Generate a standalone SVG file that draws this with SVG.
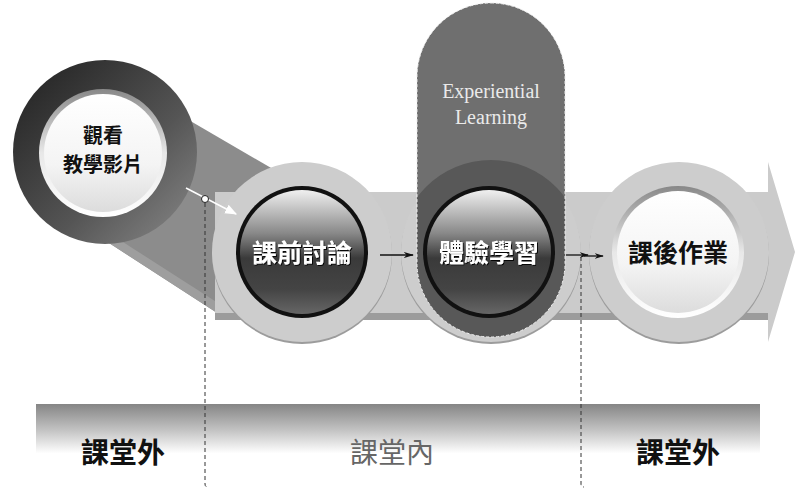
<svg xmlns="http://www.w3.org/2000/svg" width="795" height="489" viewBox="0 0 795 489">
<defs>
<style>
.cjk{font-family:"Noto Sans CJK TC","Noto Sans CJK SC",sans-serif;text-anchor:middle}
.ring{fill:#cdcdcd}
.dash{fill:none;stroke:#333;stroke-width:1;stroke-dasharray:4 3}
</style>
<linearGradient id="darkRing" x1="0" y1="0" x2="1" y2="1">
<stop offset="0" stop-color="#1e1e1e"/><stop offset="0.6" stop-color="#555"/><stop offset="1" stop-color="#8a8a8a"/>
</linearGradient>
<linearGradient id="whiteBtn" x1="0" y1="0" x2="0" y2="1">
<stop offset="0" stop-color="#ffffff"/><stop offset="0.6" stop-color="#f4f4f4"/><stop offset="1" stop-color="#dcdcdc"/>
</linearGradient>
<linearGradient id="whiteRim" x1="0" y1="0" x2="0" y2="1">
<stop offset="0" stop-color="#888"/><stop offset="0.5" stop-color="#e8e8e8"/><stop offset="1" stop-color="#ffffff"/>
</linearGradient>
<linearGradient id="darkBtn" x1="0" y1="0" x2="0" y2="1">
<stop offset="0" stop-color="#f0f0f0"/><stop offset="0.35" stop-color="#888"/><stop offset="0.55" stop-color="#3a3a3a"/><stop offset="0.8" stop-color="#444"/><stop offset="1" stop-color="#666"/>
</linearGradient>
<linearGradient id="bar" x1="0" y1="0" x2="0" y2="1">
<stop offset="0" stop-color="#858585"/><stop offset="0.35" stop-color="#c4c4c4"/><stop offset="0.65" stop-color="#ffffff"/><stop offset="1" stop-color="#ffffff"/>
</linearGradient>
<clipPath id="cap"><rect x="417" y="3" width="148" height="334" rx="74"/></clipPath>
<marker id="wh" viewBox="0 0 10 10" refX="9" refY="5" markerWidth="8" markerHeight="8" orient="auto"><path d="M0,1 L10,5 L0,9 Z" fill="#fff"/></marker>
<marker id="bk" viewBox="0 0 10 10" refX="9" refY="5" markerWidth="7" markerHeight="7" orient="auto"><path d="M0,2 L10,5 L0,8 L3,5 Z" fill="#111"/></marker>
<filter id="sh" x="-10%" y="-10%" width="120%" height="120%"><feDropShadow dx="1" dy="1" stdDeviation="0.6" flood-color="#000" flood-opacity="0.9"/></filter>
</defs>

<!-- bottom bar -->
<rect x="36" y="404" width="724" height="76" fill="url(#bar)"/>

<!-- connector band from first node -->
<polygon points="175,112 285,176 228,320 92,232" fill="#8c8c8c"/>
<polygon points="92,232 228,320 232,312 98,226" fill="#9e9e9e"/>

<!-- main arrow band -->
<path d="M215,192 L768,192 L768,162 L795,252 L768,342 L768,313 L215,313 Z" fill="#cbcbcb"/>
<rect x="215" y="313" width="553" height="7" fill="#9c9c9c"/>

<g id="n1">
<circle cx="105" cy="152" r="92" fill="url(#darkRing)"/>
<circle cx="103" cy="153" r="64" fill="url(#whiteRim)"/>
<circle cx="103" cy="153" r="59" fill="url(#whiteBtn)"/>
<text class="cjk" x="103" y="143" font-size="20" font-weight="bold" fill="#111">觀看</text>
<text class="cjk" x="103" y="172" font-size="20" font-weight="bold" fill="#111">教學影片</text>
</g>

<g id="n2">
<circle cx="302" cy="254" r="90" fill="#9c9c9c"/>
<circle cx="302" cy="252" r="90" class="ring"/>
<circle cx="302" cy="252" r="66" fill="#111"/>
<circle cx="302" cy="252" r="62" fill="url(#darkBtn)"/>
<text class="cjk" x="302" y="262" font-size="25" font-weight="bold" fill="#fff" filter="url(#sh)">課前討論</text>
</g>

<g id="n3">
<circle cx="491" cy="254" r="90" fill="#9c9c9c"/>
<circle cx="491" cy="252" r="90" class="ring"/>
<rect x="417" y="3" width="148" height="334" rx="74" fill="#6f6f6f"/>
<circle cx="491" cy="252" r="92" fill="#585858" clip-path="url(#cap)"/>
<rect x="417" y="3" width="148" height="334" rx="74" fill="none" stroke="#eee" stroke-width="1" stroke-dasharray="3 2"/>
<text x="491" y="98" font-family="Liberation Serif,serif" font-size="20" fill="#eaeaea" text-anchor="middle">Experiential</text>
<text x="491" y="124" font-family="Liberation Serif,serif" font-size="20" fill="#eaeaea" text-anchor="middle">Learning</text>
<circle cx="489" cy="252" r="66" fill="#111"/>
<circle cx="489" cy="252" r="62" fill="url(#darkBtn)"/>
<text class="cjk" x="489" y="262" font-size="25" font-weight="bold" fill="#fff" filter="url(#sh)">體驗學習</text>
</g>

<g id="n4">
<circle cx="679" cy="254" r="90" fill="#9c9c9c"/>
<circle cx="679" cy="252" r="90" class="ring"/>
<circle cx="678" cy="252" r="66" fill="url(#whiteRim)"/>
<circle cx="678" cy="252" r="61" fill="url(#whiteBtn)"/>
<text class="cjk" x="678" y="262" font-size="25" font-weight="bold" fill="#111">課後作業</text>
</g>

<g id="connectors">
<line x1="186" y1="188" x2="236" y2="214" stroke="#fff" stroke-width="1.5" marker-end="url(#wh)"/>
<circle cx="205" cy="199" r="3.5" fill="#fff" stroke="#222" stroke-width="1"/>
<path class="dash" d="M205,203 L205,484 Q205,487 208,487"/>
<line x1="380" y1="255" x2="413" y2="255" stroke="#111" stroke-width="1.5" marker-end="url(#bk)"/>
<line x1="566" y1="255" x2="588" y2="255" stroke="#111" stroke-width="1.3" marker-end="url(#bk)"/>
<line x1="584" y1="256" x2="603" y2="256" stroke="#111" stroke-width="1.3" marker-end="url(#bk)"/>
<path class="dash" d="M581,257 L581,484 Q581,487 584,487"/>
</g>

<g id="labels">
<text class="cjk" x="123" y="463" font-size="28" font-weight="bold" fill="#111">課堂外</text>
<text class="cjk" x="392" y="463" font-size="28" fill="#666">課堂內</text>
<text class="cjk" x="678" y="463" font-size="28" font-weight="bold" fill="#111">課堂外</text>
</g>
</svg>
